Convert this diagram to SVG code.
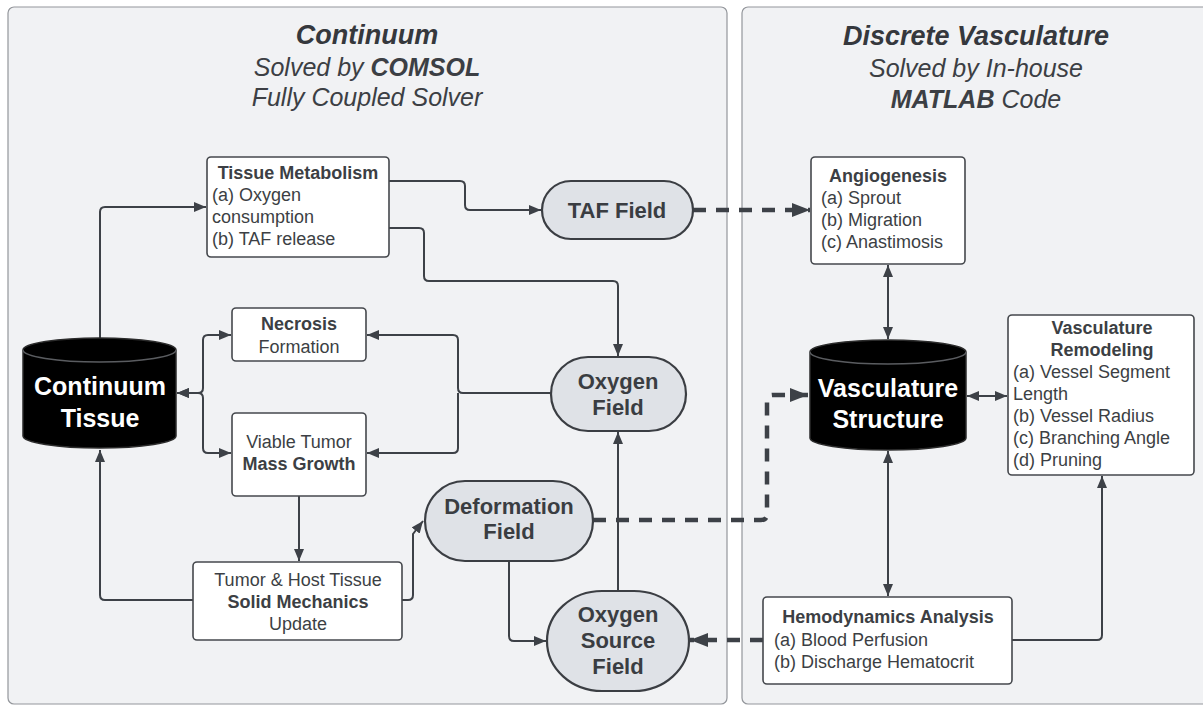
<svg xmlns="http://www.w3.org/2000/svg" width="1203" height="706" viewBox="0 0 1203 706">
<defs>
<style>
.panel{fill:#f1f2f4;stroke:#93969b;stroke-width:1.2}
.box{fill:#ffffff;stroke:#45484d;stroke-width:1.6}
.field{fill:#dfe2e7;stroke:#3b3e43;stroke-width:2.2}
.cyl{fill:#000000;stroke:#2b2b2b;stroke-width:1.5}
.cylrim{fill:none;stroke:#5a5c60;stroke-width:1.5}
.t{font-family:"Liberation Sans",Arial,sans-serif;fill:#3c3f44}
.b{font-weight:bold}
.title{font-size:27px;font-weight:bold;font-style:italic;fill:#35383d}
.sub{font-size:25px;font-style:italic;fill:#3c3f44}
.body{font-size:18px}
.fld{font-size:22px;font-weight:bold;fill:#3a3d42}
.cylt{font-size:25px;font-weight:bold;fill:#ffffff}
.c{fill:none;stroke:#3d4147;stroke-width:2}
.d{fill:none;stroke:#3d4147;stroke-width:4.5;stroke-dasharray:13 10}
</style>
<marker id="a" viewBox="0 0 12 10" refX="12" refY="5" markerWidth="12" markerHeight="10" markerUnits="userSpaceOnUse" orient="auto-start-reverse">
<path d="M0,0 L12,5 L0,10 z" fill="#3d4147"/>
</marker>
<marker id="ad" viewBox="0 0 18 14" refX="18" refY="7" markerWidth="18" markerHeight="14" markerUnits="userSpaceOnUse" orient="auto-start-reverse">
<path d="M0,0 L18,7 L0,14 z" fill="#3d4147"/>
</marker>
</defs>

<g id="panel-continuum">
<rect class="panel" x="8" y="7" width="719" height="697" rx="6"/>
<text class="t title" x="367" y="44" text-anchor="middle">Continuum</text>
<text class="t sub" x="367" y="76" text-anchor="middle">Solved by <tspan font-weight="bold">COMSOL</tspan></text>
<text class="t sub" x="367" y="106" text-anchor="middle">Fully Coupled Solver</text>
</g>

<g id="panel-discrete">
<rect class="panel" x="742" y="7" width="470" height="697" rx="6"/>
<text class="t title" x="976" y="45" text-anchor="middle">Discrete Vasculature</text>
<text class="t sub" x="976" y="77" text-anchor="middle">Solved by In-house</text>
<text class="t sub" x="976" y="108" text-anchor="middle"><tspan font-weight="bold">MATLAB</tspan> Code</text>
</g>

<g id="connectors">
<path class="c" d="M100,338 V212 Q100,207 105,207 H206" marker-end="url(#a)"/>
<path class="c" d="M389,181 H460 Q465,181 465,186 V205 Q465,210 470,210 H541" marker-end="url(#a)"/>
<path class="c" d="M389,228 H419 Q424,228 424,233 V276 Q424,281 429,281 H613 Q618,281 618,286 V356" marker-end="url(#a)"/>
<path class="c" d="M551,393 H463 Q458,393 458,388 V340 Q458,335 453,335 H367" marker-end="url(#a)"/>
<path class="c" d="M458,393 V448 Q458,453 453,453 H367" marker-end="url(#a)"/>
<path class="c" d="M177,393 H198 Q203,393 203,388 V340 Q203,335 208,335 H231" marker-start="url(#a)" marker-end="url(#a)"/>
<path class="c" d="M177,393 H198 Q203,393 203,398 V448 Q203,453 208,453 H231" marker-start="url(#a)" marker-end="url(#a)"/>
<path class="c" d="M299,496 V561" marker-end="url(#a)"/>
<path class="c" d="M193,600 H105 Q100,600 100,595 V450" marker-end="url(#a)"/>
<path class="c" d="M402,600 H408 Q413,600 413,595 V534 L423,521" marker-end="url(#a)"/>
<path class="c" d="M618,591 V432" marker-end="url(#a)"/>
<path class="c" d="M509,561 V636 Q509,641 514,641 H546" marker-end="url(#a)"/>
<path class="d" d="M593,520 H761 Q767,520 767,514 V401 Q767,395 773,395 H808" marker-end="url(#ad)"/>
<path class="d" d="M693,210 H810" marker-end="url(#ad)"/>
<path class="d" d="M763,640 H690" marker-end="url(#ad)"/>
<path class="c" d="M888,265 V339" marker-start="url(#a)" marker-end="url(#a)"/>
<path class="c" d="M967,396 H1007" marker-start="url(#a)" marker-end="url(#a)"/>
<path class="c" d="M888,451 V596" marker-start="url(#a)" marker-end="url(#a)"/>
<path class="c" d="M1012,640 H1097 Q1102,640 1102,635 V476" marker-end="url(#a)"/>
</g>

<g id="tissue-metabolism">
<rect class="box" x="207" y="157" width="182" height="100" rx="4"/>
<text class="t body b" x="298" y="179" text-anchor="middle">Tissue Metabolism</text>
<text class="t body" x="212" y="201">(a) Oxygen</text>
<text class="t body" x="212" y="223">consumption</text>
<text class="t body" x="212" y="245">(b) TAF release</text>
</g>

<g id="continuum-tissue">
<path class="cyl" d="M23,350 A76.5,12 0 0 1 176,350 V436 A76.5,12 0 0 1 23,436 Z"/>
<path class="cylrim" d="M23,350 A76.5,12 0 0 0 176,350"/>
<text class="t cylt" x="100" y="395" text-anchor="middle">Continuum</text>
<text class="t cylt" x="100" y="427" text-anchor="middle">Tissue</text>
</g>

<g id="necrosis">
<rect class="box" x="232" y="308" width="134" height="53" rx="4"/>
<text class="t body b" x="299" y="330" text-anchor="middle">Necrosis</text>
<text class="t body" x="299" y="353" text-anchor="middle">Formation</text>
</g>

<g id="viable-tumor">
<rect class="box" x="232" y="413" width="134" height="83" rx="4"/>
<text class="t body" x="299" y="448" text-anchor="middle">Viable Tumor</text>
<text class="t body b" x="299" y="470" text-anchor="middle">Mass Growth</text>
</g>

<g id="solid-mechanics">
<rect class="box" x="193" y="562" width="209" height="78" rx="4"/>
<text class="t body" x="298" y="586" text-anchor="middle">Tumor &amp; Host Tissue</text>
<text class="t body b" x="298" y="608" text-anchor="middle">Solid Mechanics</text>
<text class="t body" x="298" y="630" text-anchor="middle">Update</text>
</g>

<g id="taf-field">
<rect class="field" x="542" y="181" width="151" height="58" rx="29"/>
<text class="t fld" x="617" y="218" text-anchor="middle" fill="#222">TAF Field</text>
</g>

<g id="oxygen-field">
<rect class="field" x="551" y="357" width="135" height="74" rx="37"/>
<text class="t fld" x="618" y="389" text-anchor="middle">Oxygen</text>
<text class="t fld" x="618" y="415" text-anchor="middle">Field</text>
</g>

<g id="deformation-field">
<rect class="field" x="425" y="481" width="168" height="80" rx="40"/>
<text class="t fld" x="509" y="514" text-anchor="middle">Deformation</text>
<text class="t fld" x="509" y="539" text-anchor="middle">Field</text>
</g>

<g id="oxygen-source-field">
<rect class="field" x="547" y="591" width="142" height="100" rx="55" ry="50"/>
<text class="t fld" x="618" y="622" text-anchor="middle">Oxygen</text>
<text class="t fld" x="618" y="648" text-anchor="middle">Source</text>
<text class="t fld" x="618" y="674" text-anchor="middle">Field</text>
</g>

<g id="angiogenesis">
<rect class="box" x="811" y="157" width="154" height="107" rx="4"/>
<text class="t body b" x="888" y="182" text-anchor="middle">Angiogenesis</text>
<text class="t body" x="821" y="204">(a) Sprout</text>
<text class="t body" x="821" y="226">(b) Migration</text>
<text class="t body" x="821" y="248">(c) Anastimosis</text>
</g>

<g id="vasculature-structure">
<path class="cyl" d="M810,352 A78,12 0 0 1 966,352 V438 A78,12 0 0 1 810,438 Z"/>
<path class="cylrim" d="M810,352 A78,12 0 0 0 966,352"/>
<text class="t cylt" x="888" y="397" text-anchor="middle">Vasculature</text>
<text class="t cylt" x="888" y="428" text-anchor="middle">Structure</text>
</g>

<g id="vasculature-remodeling">
<rect class="box" x="1008" y="315" width="186" height="160" rx="4"/>
<text class="t body b" x="1102" y="334" text-anchor="middle">Vasculature</text>
<text class="t body b" x="1102" y="356" text-anchor="middle">Remodeling</text>
<text class="t body" x="1013" y="378">(a) Vessel Segment</text>
<text class="t body" x="1013" y="400">Length</text>
<text class="t body" x="1013" y="422">(b) Vessel Radius</text>
<text class="t body" x="1013" y="444">(c) Branching Angle</text>
<text class="t body" x="1013" y="466">(d) Pruning</text>
</g>

<g id="hemodynamics">
<rect class="box" x="763" y="597" width="249" height="87" rx="4"/>
<text class="t body b" x="888" y="623" text-anchor="middle">Hemodynamics Analysis</text>
<text class="t body" x="774" y="646">(a) Blood Perfusion</text>
<text class="t body" x="774" y="668">(b) Discharge Hematocrit</text>
</g>
</svg>
